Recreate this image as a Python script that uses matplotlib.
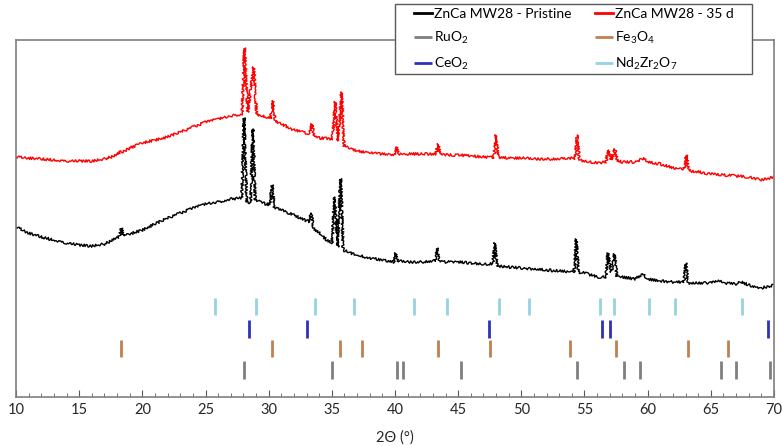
import numpy as np
import matplotlib
matplotlib.use("Agg")
import matplotlib.pyplot as plt

plt.rcParams['font.family'] = ['Lato', 'DejaVu Sans']
plt.rcParams['mathtext.fontset'] = 'custom'
plt.rcParams['mathtext.rm'] = 'Lato'
plt.rcParams['mathtext.it'] = 'Lato:italic'

# diffraction patterns (2theta in degrees, intensity in a.u.)
tt_pristine = [10.0, 11.0, 12.0, 13.0, 14.0, 15.0, 16.0, 17.0, 18.0, 18.2, 18.35, 18.5,
               19.0, 20.0, 21.0, 22.0, 23.0, 24.0, 25.0, 26.0, 27.0, 27.87, 28.05, 28.25,
               28.57, 28.75, 28.93, 29.5, 30.1, 30.28, 30.46, 31.0, 32.0, 33.2, 33.36, 33.54,
               34.0, 34.6, 35.02, 35.2, 35.45, 35.7, 35.9, 36.5, 37.0, 38.0, 39.0, 39.9,
               40.05, 40.2, 41.0, 42.0, 43.2, 43.35, 43.52, 44.0, 45.0, 46.0, 47.0, 47.74,
               47.9, 48.08, 49.0, 50.0, 51.0, 52.0, 53.0, 54.18, 54.35, 54.52, 55.0, 56.0,
               56.7, 56.86, 57.12, 57.38, 57.56, 58.0, 59.0, 59.6, 60.0, 61.0, 62.0, 62.86,
               63.02, 63.2, 64.0, 65.0, 65.7, 66.0, 67.0, 67.4, 68.0, 69.0, 70.0]
i_pristine = [170, 164, 160, 157, 154, 152, 151, 153, 159, 161, 169, 161,
              163, 167, 173, 179, 184, 189, 193, 195, 198, 199, 279, 195,
              194, 268, 197, 194, 192, 212, 189, 187, 182, 175, 184, 169,
              164, 157, 154, 200, 150, 218, 147, 144, 142, 139, 137, 135,
              144, 136, 135, 135, 136, 149, 136, 135, 135, 134, 133, 133,
              154, 131, 130, 129, 128, 127, 126, 125, 158, 125, 124, 120,
              120, 144, 125, 143, 121, 120, 118, 123, 118, 116, 115, 115,
              134, 114, 114, 114, 116, 114, 113, 115, 112, 109, 112]

tt_aged = [10.0, 11.0, 12.0, 13.0, 14.0, 15.0, 16.0, 17.0, 18.0, 18.3, 18.5, 19.0,
           20.0, 21.0, 22.0, 23.0, 24.0, 25.0, 26.0, 27.0, 27.9, 28.08, 28.35, 28.82,
           29.05, 29.5, 30.15, 30.33, 30.52, 31.0, 32.0, 33.25, 33.42, 33.6, 34.0, 35.05,
           35.26, 35.5, 35.77, 35.97, 36.5, 37.0, 38.0, 39.0, 39.95, 40.1, 40.28, 41.0,
           42.0, 43.22, 43.4, 43.58, 44.0, 45.0, 46.0, 47.0, 47.82, 48.0, 48.18, 49.0,
           50.0, 51.0, 52.0, 53.0, 54.22, 54.4, 54.6, 55.0, 56.0, 56.7, 56.86, 57.12,
           57.4, 57.6, 58.0, 59.0, 59.7, 60.0, 61.0, 62.0, 62.88, 63.06, 63.26, 64.0,
           65.0, 66.0, 67.0, 68.0, 69.0, 70.0]
i_aged = [240, 239, 238, 237, 236, 236, 236, 238, 242, 246, 245, 249,
          254, 257, 260, 265, 270, 275, 278, 281, 283, 349, 285, 330,
          282, 281, 278, 296, 276, 273, 267, 263, 273, 260, 259, 258,
          295, 256, 305, 251, 248, 246, 244, 243, 242, 250, 243, 243,
          243, 243, 253, 243, 242, 242, 241, 240, 240, 262, 240, 239,
          239, 238, 238, 238, 239, 262, 237, 236, 234, 235, 247, 237,
          248, 236, 235, 235, 239, 235, 233, 229, 228, 242, 226, 225,
          223, 222, 221, 220, 217, 220]

# reference stick positions (2theta)
ruo2 = [28.08, 35.05, 40.15, 40.6, 45.25, 54.41, 58.1, 59.42, 65.8, 66.99, 69.66]
fe3o4 = [18.34, 30.3, 35.66, 37.4, 43.39, 47.54, 53.87, 57.5, 63.2, 66.39]
ceo2 = [28.48, 33.07, 47.46, 56.38, 56.98, 69.53]
nd2zr2o7 = [25.76, 29.0, 33.7, 36.76, 41.5, 44.15, 48.27, 50.6, 56.24, 57.37,
            60.12, 62.18, 67.5]

fig = plt.figure(figsize=(7.82, 4.46), dpi=100)
ax = fig.add_axes([16 / 782, 49 / 446, 758 / 782, 357 / 446])

# counting noise look via sketch rendering
sketch = (1.3, 1.6, 2.5)
l1, = ax.plot(tt_pristine, i_pristine, color='black', lw=1.0,
              label='ZnCa MW28 - Pristine')
l1.set_sketch_params(*sketch)
l2, = ax.plot(tt_aged, i_aged, color='#ff0000', lw=1.0, label='ZnCa MW28 - 35 d')
l2.set_sketch_params(*sketch)

ax.vlines(ruo2, 18, 36, color='#7f7f7f', lw=2, label='RuO$_2$')
ax.vlines(fe3o4, 40, 57, color='#c0804f', lw=2, label='Fe$_3$O$_4$')
ax.vlines(ceo2, 59, 77, color='#3030b8', lw=2, label='CeO$_2$')
ax.vlines(nd2zr2o7, 82, 99, color='#96d2e2', lw=2, label='Nd$_2$Zr$_2$O$_7$')

ax.set_xlim(10, 70)
ax.set_ylim(0, 357)
ax.set_yticks([])
ax.set_xticks(np.arange(10, 71, 5))
ax.set_xticks(np.arange(10, 71, 1), minor=True)
ax.tick_params(axis='x', which='both', direction='in', color='#595959',
               labelsize=10.5, pad=4, colors='#262626')
ax.tick_params(axis='x', which='major', length=5)
ax.tick_params(axis='x', which='minor', length=3)
for s in ax.spines.values():
    s.set_color('#7f7f7f')
    s.set_linewidth(1.2)
ax.set_xlabel('2Θ (°)', fontsize=10.5, color='#262626', labelpad=10)

# legend box sits across the top spine
box = plt.Rectangle((395 / 782, 1 - 74 / 446), 357 / 782, 70 / 446,
                    transform=fig.transFigure, facecolor='white',
                    edgecolor='#595959', lw=1.0, zorder=5)
fig.add_artist(box)

h = ax.get_legend_handles_labels()[0]
handles = [h[0], h[2], h[4], h[1], h[3], h[5]]
leg = fig.legend(handles=handles, ncol=2, loc='upper left',
                 bbox_to_anchor=(414 / 782, 1 - 8 / 446), fontsize=10,
                 frameon=False, handlelength=1.3, handletextpad=0.15,
                 columnspacing=1.7, labelspacing=0.72, borderpad=0,
                 borderaxespad=0)
leg.set_zorder(6)
for line in leg.get_lines():
    line.set_linewidth(2.0)
    line.set_sketch_params(None)

fig.savefig('out.png', dpi=100)
